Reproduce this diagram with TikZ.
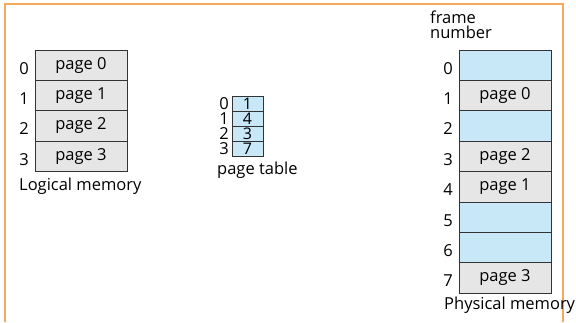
\documentclass[tikz,border=0pt]{standalone}
\usepackage{fontspec}
\setmainfont{Open Sans}
\usetikzlibrary{positioning}

\definecolor{pagegray}{HTML}{E6E6E6}
\definecolor{freeblue}{HTML}{C8E8F8}
\definecolor{frameorange}{HTML}{F6A85C}

\begin{document}
\begin{tikzpicture}[x=1pt,y=-1pt,
  memcell/.style={draw=black!80, line width=0.8pt, fill=pagegray, outer sep=0pt,
    minimum width=92pt, minimum height=30.4pt, inner sep=0pt,
    font=\fontsize{16.5}{18}\selectfont},
  freecell/.style={memcell, fill=freeblue},
  ptcell/.style={draw=black!80, line width=0.8pt, fill=freeblue, outer sep=0pt,
    minimum width=31pt, minimum height=15pt, inner sep=0pt,
    font=\fontsize{16}{15}\selectfont},
  idx/.style={inner sep=0pt, font=\fontsize{16.5}{15}\selectfont},
  caption/.style={inner sep=0pt, anchor=west, font=\fontsize{16.5}{18}\selectfont}
]

% Parametry
\def\gap{6pt}
\useasboundingbox (0,0) rectangle (576,322);

% ---------- ramka ----------
\draw[frameorange, line width=1.2pt] (5,322) -- (5,4) -- (563,4) -- (563,322);

% ---------- Logical memory ----------
\node[memcell] (lm0) at (81,65.2) {page 0};
\node[memcell, below=0pt of lm0] (lm1) {page 1};
\node[memcell, below=0pt of lm1] (lm2) {page 2};
\node[memcell, below=0pt of lm2] (lm3) {page 3};
\node[idx, left=\gap of lm0, yshift=-3pt] (li0) {0};
\node[idx, left=\gap of lm1, yshift=-3pt] (li1) {1};
\node[idx, left=\gap of lm2, yshift=-3pt] (li2) {2};
\node[idx, left=\gap of lm3, yshift=-3pt] (li3) {3};
\node[caption] (lmname) at (19,186) {Logical memory};

% ---------- page table ----------
\node[ptcell] (pt0) at (247.5,103.5) {1};
\node[ptcell, below=0pt of pt0] (pt1) {4};
\node[ptcell, below=0pt of pt1] (pt2) {3};
\node[ptcell, below=0pt of pt2] (pt3) {7};
\node[idx, left=3pt of pt0] (pi0) {0};
\node[idx, left=3pt of pt1] (pi1) {1};
\node[idx, left=3pt of pt2] (pi2) {2};
\node[idx, left=3pt of pt3] (pi3) {3};
\node[caption] (ptname) at (217,170) {page table};

% ---------- Physical memory ----------
\node[freecell] (pm0) at (505,65.2) {};
\node[memcell, below=0pt of pm0] (pm1) {page 0};
\node[freecell, below=0pt of pm1] (pm2) {};
\node[memcell, below=0pt of pm2] (pm3) {page 2};
\node[memcell, below=0pt of pm3] (pm4) {page 1};
\node[freecell, below=0pt of pm4] (pm5) {};
\node[freecell, below=0pt of pm5] (pm6) {};
\node[memcell, below=0pt of pm6] (pm7) {page 3};
\node[idx, left=\gap of pm0, yshift=-3pt] (fi0) {0};
\node[idx, left=\gap of pm1, yshift=-3pt] (fi1) {1};
\node[idx, left=\gap of pm2, yshift=-3pt] (fi2) {2};
\node[idx, left=\gap of pm3, yshift=-3pt] (fi3) {3};
\node[idx, left=\gap of pm4, yshift=-3pt] (fi4) {4};
\node[idx, left=\gap of pm5, yshift=-3pt] (fi5) {5};
\node[idx, left=\gap of pm6, yshift=-3pt] (fi6) {6};
\node[idx, left=\gap of pm7, yshift=-3pt] (fi7) {7};
\node[caption, anchor=north west, align=left, font=\fontsize{16.5}{15}\selectfont]
  (fname) at (430,11) {frame\\number};
\node[caption] (pmname) at (444,305) {Physical memory};

\end{tikzpicture}
\end{document}
